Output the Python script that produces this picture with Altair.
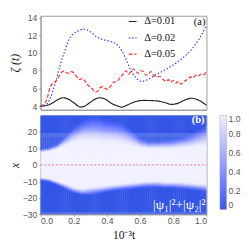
import altair as alt
import numpy as np
import pandas as pd

# ---------------- panel (a): zeta(t) ----------------
t_black = [0.0, 0.04, 0.075, 0.1, 0.135, 0.16, 0.2, 0.24, 0.27, 0.3, 0.355, 0.39, 0.42,
           0.46, 0.49, 0.53, 0.57, 0.62, 0.7, 0.75, 0.79, 0.83, 0.87, 0.91, 0.95, 1.0]
v_black = [4.0, 4.1, 4.4, 4.7, 4.95, 4.85, 4.4, 3.9, 4.05, 4.45, 4.95, 4.8, 4.4,
           4.05, 3.9, 4.2, 4.5, 4.65, 4.6, 4.4, 4.2, 4.35, 4.7, 4.9, 4.7, 4.1]

t_blue = [0.0, 0.03, 0.045, 0.058, 0.087, 0.116, 0.145, 0.18, 0.22, 0.26, 0.3, 0.34, 0.38,
          0.43, 0.47, 0.51, 0.54, 0.57, 0.607, 0.646, 0.69, 0.76, 0.84, 0.91, 0.96, 1.0]
v_blue = [4.0, 4.1, 4.4, 4.9, 6.5, 8.5, 10.2, 11.8, 12.4, 12.7, 12.4, 11.8, 11.5,
          11.25, 10.8, 9.5, 8.2, 7.3, 6.8, 7.0, 7.5, 8.2, 9.2, 10.4, 11.7, 13.1]

t_red = [0.0, 0.02, 0.04, 0.058, 0.075, 0.09, 0.106, 0.125, 0.14, 0.155, 0.17, 0.185, 0.2,
         0.215, 0.235, 0.25, 0.265, 0.28, 0.295, 0.31, 0.33, 0.345, 0.36, 0.375, 0.39, 0.405,
         0.42, 0.44, 0.46, 0.48, 0.5, 0.515, 0.53, 0.545, 0.56, 0.575, 0.59, 0.605, 0.62,
         0.635, 0.65, 0.665, 0.68, 0.7, 0.72, 0.74, 0.755, 0.77, 0.785, 0.8, 0.815, 0.83,
         0.845, 0.86, 0.875, 0.89, 0.905, 0.92, 0.935, 0.95, 0.965, 0.98, 1.0]
v_red = [4.0, 4.2, 4.9, 6.2, 6.6, 6.8, 7.2, 7.8, 7.95, 7.8, 7.7, 7.9, 7.75,
         7.4, 7.0, 7.15, 6.9, 6.5, 6.2, 6.0, 5.6, 5.7, 6.1, 6.2, 6.0, 5.9,
         6.2, 6.7, 6.8, 7.2, 7.7, 8.0, 7.6, 7.9, 8.2, 7.9, 7.7, 8.0, 7.9,
         7.5, 7.6, 7.9, 7.5, 7.3, 7.35, 7.0, 6.8, 7.0, 6.7, 6.9, 6.6, 6.8,
         6.5, 6.7, 6.9, 7.1, 7.3, 7.2, 7.5, 7.4, 7.6, 7.5, 8.0]

series_names = ["Δ=0.01", "Δ=0.02", "Δ=0.05"]
series_colors = ["#222222", "#3333ff", "#ff2a2a"]
series_dash = [[1, 0], [1.5, 2], [4, 2]]

x_ticks = [0.0, 0.2, 0.4, 0.6, 0.8, 1.0]
zeta_ticks = [4, 6, 8, 10, 12, 14]
pos_ticks = [-30, -20, -10, 0, 10, 20]
cbar_ticks = [0.0, 0.2, 0.4, 0.6, 0.8, 1.0]

# ---------------- panel (b): density edges ----------------
t_knots = [0.0, 0.05, 0.1, 0.15, 0.2, 0.25, 0.3, 0.35, 0.4, 0.45, 0.5,
           0.55, 0.6, 0.65, 0.7, 0.75, 0.8, 0.85, 0.9, 0.95, 1.0]
upper_inner = [7.5, 8.0, 9.5, 11.5, 13.0, 14.0, 13.5, 13.0, 12.5, 12.5, 12.0,
               11.0, 10.0, 9.5, 9.5, 9.5, 9.5, 10.0, 10.0, 10.5, 11.0]
upper_outer = [10.0, 11.0, 13.0, 18.0, 24.0, 28.0, 30.0, 30.0, 29.0, 28.0, 26.0,
               22.0, 17.0, 15.0, 15.0, 15.5, 16.0, 17.0, 19.0, 22.0, 25.0]
lower_inner = [-7.5, -8.0, -9.5, -11.0, -13.0, -14.0, -13.0, -12.5, -12.0, -11.5, -11.0,
               -10.5, -10.0, -9.5, -9.5, -10.0, -10.0, -10.0, -10.5, -11.0, -11.0]
lower_outer = [-9.5, -10.5, -12.5, -15.0, -17.5, -19.0, -19.0, -18.0, -17.0, -16.0, -15.5,
               -15.0, -14.5, -14.0, -14.0, -14.5, -14.5, -15.0, -15.5, -16.0, -17.0]

# ---------------- build tables ----------------
rows = []
for name, ts, vs in [(series_names[0], t_black, v_black),
                     (series_names[1], t_blue, v_blue),
                     (series_names[2], t_red, v_red)]:
    for t, v in zip(ts, vs):
        rows.append({"t": t, "zeta": v, "series": name})
lines_df = pd.DataFrame(rows)

dt = 0.0125
dx = 0.6
ts = np.arange(0.0, 1.0 + 1e-9, dt)
xs = np.arange(-30.0, 30.0 + 1e-9, dx)
T, X = np.meshgrid(ts, xs)
ui = np.interp(T, t_knots, upper_inner)
uo = np.interp(T, t_knots, upper_outer)
li = -np.interp(T, t_knots, lower_inner)
lo = -np.interp(T, t_knots, lower_outer)
a = np.where(X >= 0, ui, li)
b = np.where(X >= 0, uo, lo)
s = np.clip((np.abs(X) - a) / (b - a), 0, 1)
val = 1 - (3 * s ** 2 - 2 * s ** 3)
heat_df = pd.DataFrame({
    "t0": (T - 0.6 * dt).ravel(), "t1": (T + 0.6 * dt).ravel(),
    "x0": (X - 0.6 * dx).ravel(), "x1": (X + 0.6 * dx).ravel(),
    "v": val.ravel(),
})

dummy = pd.DataFrame({"d": [0]})
SERIF = "Liberation Serif"
SANS = "Liberation Sans"
W = 173
H_TOP = 98
H_BOT = 103

# ---------------- top panel ----------------
xs_top = alt.Scale(domain=[0, 1], nice=False, zero=False)
ys_top = alt.Scale(domain=[3.6, 14.2], nice=False, zero=False)

lines = alt.Chart(lines_df).mark_line(strokeWidth=1.2, interpolate="monotone").encode(
    x=alt.X("t:Q", scale=xs_top,
            axis=alt.Axis(labels=False, ticks=False, title=None, grid=False)),
    y=alt.Y("zeta:Q", scale=ys_top,
            axis=alt.Axis(values=zeta_ticks, title="ζ (t)", grid=False, labelOverlap=False,
                          titleFont=SERIF, titleFontStyle="italic", titleFontWeight="normal",
                          titleFontSize=12, titlePadding=2, minExtent=18, maxExtent=18)),
    color=alt.Color("series:N", scale=alt.Scale(domain=series_names, range=series_colors), legend=None),
    strokeDash=alt.StrokeDash("series:N", scale=alt.Scale(domain=series_names, range=series_dash), legend=None),
)

legend_px_y = [6, 23, 40]
top_layers = [lines]
for name, col, dash, ly in zip(series_names, series_colors, series_dash, legend_px_y):
    top_layers.append(
        alt.Chart(dummy).mark_rule(color=col, strokeDash=dash, strokeWidth=1.2).encode(
            x=alt.value(92), x2=alt.value(100), y=alt.value(ly))
    )
    top_layers.append(
        alt.Chart(dummy).mark_text(align="left", baseline="middle", font=SERIF, fontSize=11,
                                   color="#111").encode(
            x=alt.value(108), y=alt.value(ly), text=alt.value(name))
    )
top_layers.append(
    alt.Chart(dummy).mark_text(align="right", baseline="middle", font=SERIF, fontSize=11,
                               color="#111").encode(
        x=alt.value(172), y=alt.value(7), text=alt.value("(a)"))
)
top = alt.layer(*top_layers).properties(width=W, height=H_TOP)

# ---------------- bottom panel ----------------
xs_bot = alt.Scale(domain=[0, 1], nice=False, zero=False)
ys_bot = alt.Scale(domain=[-30, 30], nice=False, zero=False)

heat = alt.Chart(heat_df).mark_rect(clip=True, strokeWidth=0).encode(
    x=alt.X("t0:Q", scale=xs_bot,
            axis=alt.Axis(values=x_ticks, format=".1f", title="10⁻³t", grid=False,
                          labelOverlap=False,
                          titleFont=SERIF, titleFontWeight="normal", titleFontSize=12,
                          titlePadding=4, labelPadding=1)),
    x2="t1:Q",
    y=alt.Y("x0:Q", scale=ys_bot,
            axis=alt.Axis(values=pos_ticks, title="x", grid=False, labelOverlap=False,
                          titleFont=SERIF, titleFontStyle="italic", titleFontWeight="normal",
                          titleFontSize=12, titlePadding=2, minExtent=18, maxExtent=18)),
    y2="x1:Q",
    fill=alt.Fill("v:Q", scale=alt.Scale(domain=[0, 1], range=["#3356e6", "#ffffff"]),
                  legend=alt.Legend(orient="none", legendX=187, legendY=104, direction="vertical",
                                    gradientLength=98, gradientThickness=7, title=None,
                                    values=cbar_ticks, labelOverlap=False,
                                    labelExpr="datum.value == 0 ? '0' : format(datum.value, '.1f')",
                                    labelFontSize=9, labelColor="#555", labelFont=SANS,
                                    labelOffset=2, gradientStrokeColor="#aaaaaa",
                                    gradientStrokeWidth=0.5)),
)
zero_line = alt.Chart(dummy).mark_rule(color="#ff5050", strokeDash=[2, 2], strokeWidth=0.8).encode(
    x=alt.value(0), x2=alt.value(W), y=alt.value(H_BOT / 2))
label_b = alt.Chart(dummy).mark_text(align="right", baseline="middle", font=SERIF, fontSize=11,
                                     fontWeight="bold", color="white").encode(
    x=alt.value(171), y=alt.value(5), text=alt.value("(b)"))
label_psi = alt.Chart(dummy).mark_text(align="right", baseline="middle", font=SERIF, fontSize=14,
                                       color="white").encode(
    x=alt.value(172), y=alt.value(93), text=alt.value("|ψ₁|²+|ψ₂|²"))
bottom = alt.layer(heat, zero_line, label_b, label_psi).properties(width=W, height=H_BOT)

chart = alt.vconcat(top, bottom, spacing=2).properties(
    padding={"left": 0, "top": 0, "right": 0, "bottom": 0}
).configure(font=SANS).configure_axis(
    domainColor="#999999", tickColor="#999999", tickSize=2, labelColor="#555555",
    labelFontSize=9, labelFont=SANS, titleColor="#111111", labelOverlap=False
).configure_view(stroke="#999999")

chart.save("out.html", embed_options={"renderer": "svg", "actions": False})
